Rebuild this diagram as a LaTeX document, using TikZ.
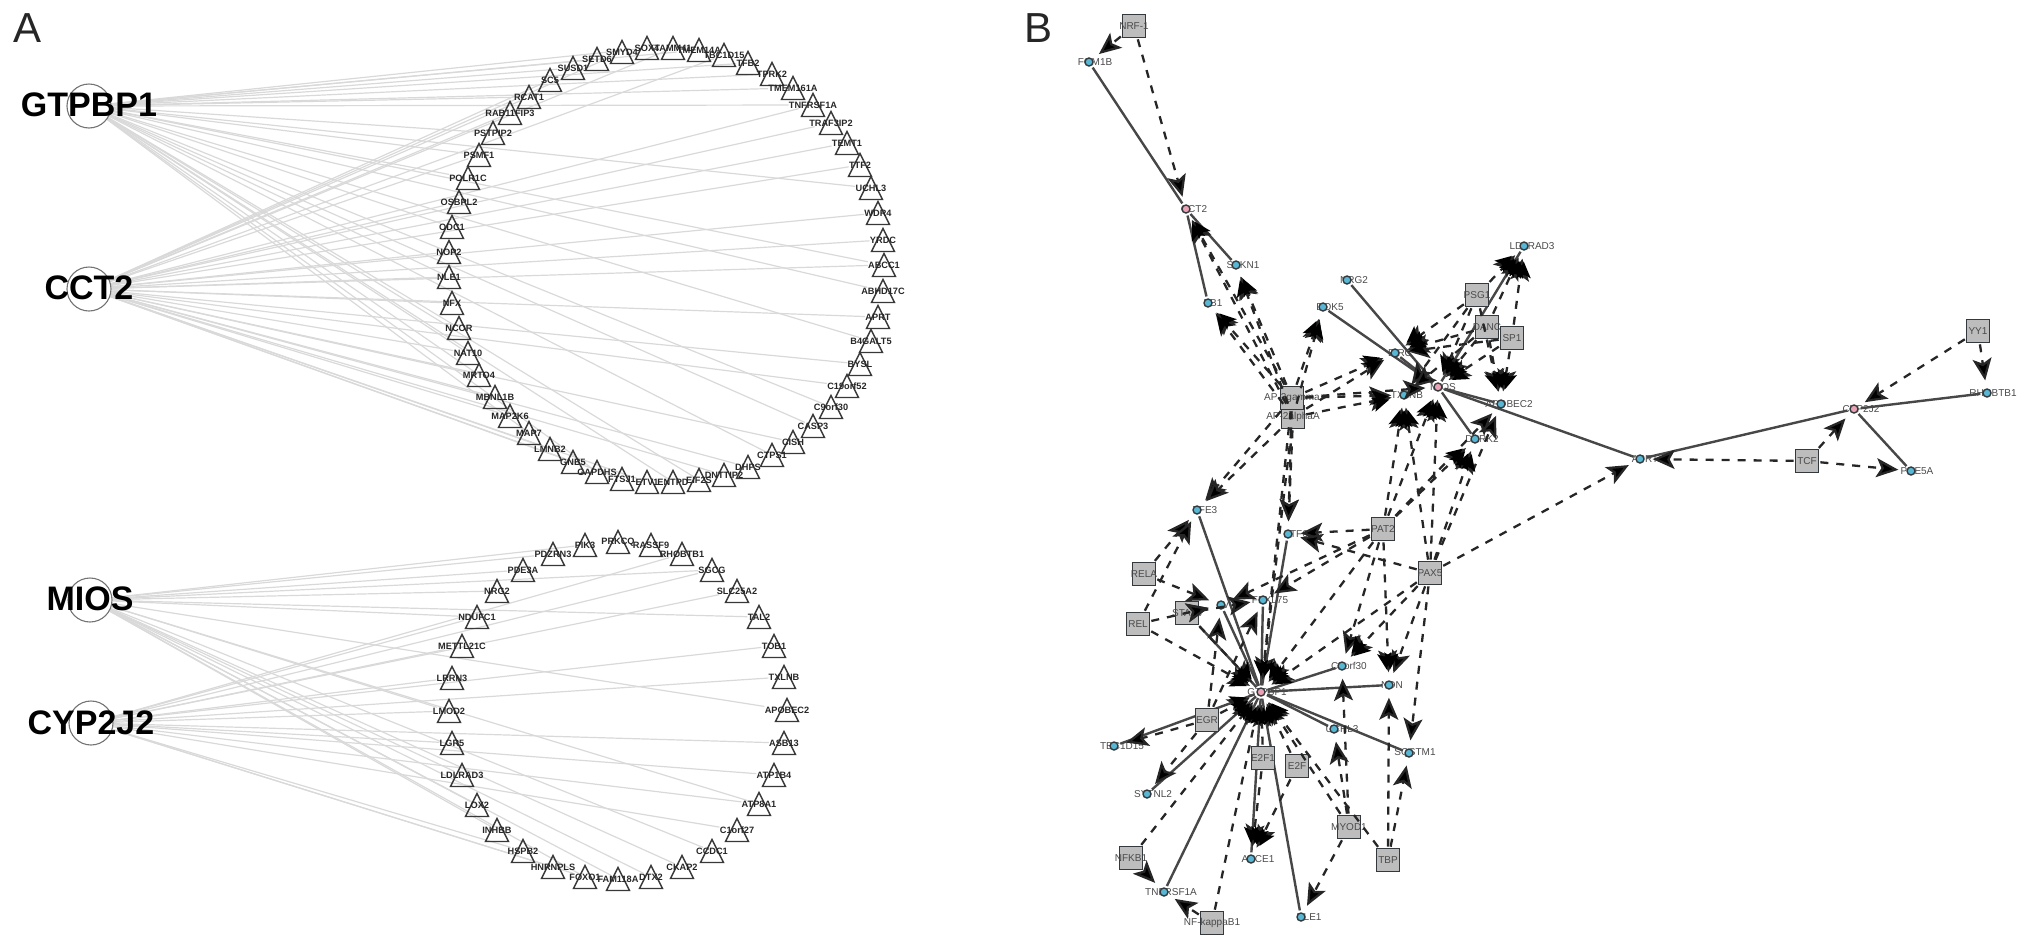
\documentclass[tikz,border=0pt]{standalone}
\usepackage{fontspec}
\setmainfont{Liberation Sans}
\usetikzlibrary{arrows.meta}
\pgfdeclarelayer{under}
\pgfdeclarelayer{over}
\pgfsetlayers{under,main,over}
\definecolor{sqfill}{HTML}{BDBDBD}
\definecolor{ringdk}{HTML}{33393D}
\definecolor{cyanf}{HTML}{58B7D3}
\definecolor{pinkf}{HTML}{E9A3B4}
\definecolor{lblc}{HTML}{4A4A4A}
\tikzset{
  tri/.pic={\draw[draw=black!78,line width=.7pt,line join=miter] (-11.5,11.5) -- (0,-11.5) -- (11.5,11.5) -- cycle;},
  tlab/.style={inner sep=0pt,text=black!85,font=\fontsize{4.6}{5}\selectfont\bfseries},
  hubc/.style={circle,draw=black!55,line width=.55pt,minimum size=22pt,inner sep=0pt},
  hublab/.style={inner sep=0pt,text=black,font=\fontsize{17}{20}\selectfont\bfseries},
  panel/.style={inner sep=0pt,text=black!85,font=\fontsize{21}{24}\selectfont},
  edgeA/.style={draw=black!15,line width=.6pt},
  sq/.style={rectangle,draw=ringdk,fill=sqfill,line width=.85pt,minimum size=11.5pt,inner sep=0pt},
  lbl/.style={inner sep=0pt,text=lblc,font=\fontsize{5}{6}\selectfont},
  tg/.style={circle,draw=ringdk,fill=cyanf,line width=.7pt,minimum size=4pt,inner sep=0pt},
  hb/.style={circle,draw=ringdk,fill=pinkf,line width=.7pt,minimum size=4pt,inner sep=0pt},
  solidE/.style={draw=black!72,line width=1.2pt,shorten <=1pt,shorten >=1pt},
  dashE/.style={draw=black!85,line width=1.15pt,dash pattern=on 4pt off 4pt,shorten <=.5pt,shorten >=4pt,
    -{Stealth[length=11pt,width=9.5pt,inset=2.5pt,fill=black]}},
  fanE/.style={dashE,draw opacity=0},
}
\newcommand{\Tg}[5]{\node[lbl] (#1l) at (#4,#3) {#5}; \node[tg] (#1) at (#2,#3) {};}
\newcommand{\Hb}[5]{\node[lbl] (#1l) at (#4,#3) {#5}; \node[hb] (#1) at (#2,#3) {};}
\newcommand{\Sq}[4]{\node[sq] (#1) at (#2,#3) {}; \node[lbl] (#1l) at (#2,#3) {#4};}
\begin{document}
\begin{tikzpicture}[x=.5pt,y=-.5pt]
\useasboundingbox (0,0) rectangle (2031,948);
\node[panel] (pA) at (28,28) {A};
\node[panel] (pB) at (1038,28) {B};
% ---------- panel A hubs
\node[hubc] (gt) at (89,106) {};
\node[hubc] (cc) at (89,289) {};
\node[hubc] (mi) at (90,600) {};
\node[hubc] (cy) at (91,723) {};
\node[hublab] (gtl) at (89,105) {GTPBP1};
\node[hublab] (ccl) at (89,288) {CCT2};
\node[hublab] (mil) at (90,599) {MIOS};
\node[hublab] (cyl) at (91,723) {CYP2J2};
% ---------- upper ring
\foreach \x/\y/\t [count=\i] in {
510/113/RAB11FIP3,529/97/RCAT1,550/80/SC5,573/68/SUSD1,597/59/SETD6,622/52/SMYD4,647/48/SOX4,673/48/TAMM41,
699/50/TMEM14A,724/55/TBC1D15,748/63/TFB2,772/74/TPRK2,793/88/TMEM161A,813/105/TNFRSF1A,831/123/TRAF3IP2,
847/143/TEMT1,860/165/TTF2,871/188/UCHL3,878/213/WDR4,883/240/YRDC,884/265/ABCC1,883/291/ABHD17C,878/317/APRT,
871/341/B4GALT5,860/364/BYSL,847/386/C19orf52,831/407/C9orf30,813/426/CASP3,793/442/CISH,772/455/CTPS1,
748/467/DHPS,724/475/DNTTIP2,699/480/EIF2S,673/482/ENTPD,647/482/ETV1,622/479/FTSJ1,597/472/GAPDHS,
573/462/GNB5,550/449/LMNB2,529/433/MAP7,510/416/MAP2K6,495/397/MBNL1B,479/375/MRTO4,468/353/NAT10,459/328/NCOR,
452/303/NFX,449/277/NLE1,449/252/NOP2,452/227/ODC1,459/202/OSBPL2,468/178/POLR1C,479/155/PSMF1,493/133/PSTPIP2}
{ \pic at (\x,\y) {tri}; \node[tlab] (a\i) at (\x,\y) {\t}; }
% ---------- lower ring
\foreach \x/\y/\t [count=\i] in {
618/542/PRKCQ,651/545/RASSF9,682/554/RHOBTB1,712/570/SGCG,737/591/SLC25A2,759/617/TAL2,774/646/TOB1,784/677/TXLNB,
787/710/APOBEC2,784/743/ASB13,774/775/ATP1B4,759/804/ATP8A1,737/830/C1orf27,712/851/CCDC1,682/867/CKAP2,651/877/DTX2,
618/879/FAM118A,585/877/FOXO1,553/867/HNRNPLS,523/851/HSPB2,497/830/INHBB,477/805/LOX2,462/775/LDLRAD3,452/743/LGR5,
449/711/LMOD2,452/678/LRRN3,462/646/METTL21C,477/617/NDUFC1,497/591/NRG2,523/570/PDE3A,553/554/PDZRN3,585/545/PIK3}
{ \pic at (\x,\y) {tri}; \node[tlab] (b\i) at (\x,\y) {\t}; }
% ---------- panel B nodes
\Sq{nrf}{1134}{26}{NRF-1}
\Tg{fom}{1089}{62}{1095}{FOM1B}
\Hb{cct}{1186}{209}{1194}{CCT2}
\Tg{sbk}{1236}{265}{1243}{SBKN1}
\Tg{pb}{1208}{303}{1213}{PB1}
\Tg{nrg}{1347}{280}{1354}{NRG2}
\Tg{dok}{1323}{307}{1330}{DOK5}
\Tg{bir}{1395}{353}{1400}{BIRC}
\Hb{mio}{1438}{387}{1443}{MIOS}
\Tg{txl}{1404}{395}{1407}{TXLNB}
\Tg{apo}{1501}{404}{1509}{APOBEC2}
\Tg{dar}{1475}{439}{1482}{DARK2}
\Tg{ldl}{1524}{246}{1532}{LDLRAD3}
\Sq{psg}{1477}{295}{PSG1}
\Sq{dan}{1487}{327}{DANC}
\Sq{sp}{1512}{338}{SP1}
\Sq{apa}{1293}{417}{AP-2alphaA}
\Sq{apg}{1292}{398}{AP-2gamma}
\Sq{rela}{1144}{574}{RELA}
\Sq{rel}{1138}{624}{REL}
\Sq{sta}{1187}{613}{STAT3}
\Sq{pat}{1383}{529}{PAT2}
\Sq{pax}{1430}{573}{PAX5}
\Sq{egr}{1207}{720}{EGR}
\Sq{efa}{1263}{758}{E2F1}
\Sq{efb}{1297}{766}{E2F}
\Sq{myo}{1349}{827}{MYOD1}
\Sq{tbp}{1388}{860}{TBP}
\Sq{nfk}{1131}{858}{NFKB1}
\Sq{nfb}{1212}{923}{NF-kappaB1}
\Sq{yy}{1978}{331}{YY1}
\Sq{tcf}{1807}{461}{TCF}
\Tg{apr}{1640}{459}{1645}{APRT}
\Tg{rho}{1987}{393}{1993}{RHOBTB1}
\Tg{pde}{1911}{471}{1917}{PDE5A}
\Hb{cyp}{1854}{409}{1861}{CYP2J2}
\Tg{tfe}{1197}{510}{1205}{TFE3}
\Tg{atf}{1288}{534}{1296}{ATF6}
\Tg{fbx}{1263}{600}{1270}{FBXL75}
\Tg{av}{1221}{605}{1223}{AV}
\Tg{cnine}{1342}{666}{1349}{C9orf30}
\Tg{ndn}{1389}{685}{1392}{NDN}
\Tg{tbc}{1114}{746}{1122}{TBC1D15}
\Tg{uch}{1334}{729}{1342}{UCHL3}
\Tg{sqs}{1409}{753}{1415}{SQSTM1}
\Tg{syt}{1147}{794}{1153}{SYTNL2}
\Tg{abc}{1251}{859}{1258}{ABCE1}
\Tg{tnf}{1164}{892}{1171}{TNFRSF1A}
\Tg{nle}{1301}{917}{1309}{NLE1}
\Hb{gtp}{1261}{692}{1267}{GTPBP1}
\begin{pgfonlayer}{under}
\foreach \i in {2,4,5,7,9,11,12,13,14,18,21,22,24,27,28,30,33,34,37,40,43,44,45,47,49,51,52,53}
  \draw[edgeA] (gt) -- (a\i);
\foreach \i in {1,2,3,6,8,10,14,15,16,17,19,20,21,23,25,26,29,31,32,35,36,38,39,41,42,43,44,46,47,48,50,52}
  \draw[edgeA] (cc) -- (a\i);
\foreach \i in {29,32,31,30,28,4,6,9,12,14,15,16,17,18,21,22,23,25}
  \draw[edgeA] (mi) -- (b\i);
\foreach \i in {3,4,5,7,8,10,11,12,13,18,19,20,24,25,26,27,28}
  \draw[edgeA] (cy) -- (b\i);
% ---------- panel B solid edges
\foreach \a/\b in {fom/cct,cct/sbk,cct/pb,nrg/mio,dok/mio,bir/mio,mio/dar,mio/apo,mio/apr,mio/ldl,
  apr/cyp,cyp/rho,cyp/pde,gtp/tfe,gtp/atf,gtp/av,gtp/fbx,gtp/cnine,gtp/ndn,gtp/uch,gtp/sqs,gtp/tbc,gtp/syt,
  gtp/tnf,gtp/abc,gtp/nle,gtp/sta}
  \draw[solidE] (\a) -- (\b);
\end{pgfonlayer}
% ---------- panel B dashed edges with arrows
\begin{pgfonlayer}{over}
\foreach \a/\b in {nrf/fom,nrf/cct,
  apg/cct,apa/cct,apg/sbk,apa/sbk,apg/pb,apa/pb,apg/dok,apa/dok,apg/bir,apa/bir,apg/mio,apa/txl,apg/txl,
  apg/tfe,apa/tfe,apa/atf,apg/atf,apg/gtp,apa/gtp,
  psg/bir,dan/bir,sp/bir,psg/mio,dan/mio,sp/mio,psg/txl,dan/txl,psg/ldl,dan/ldl,sp/ldl,dan/apo,sp/apo,psg/apo,
  pat/txl,pax/txl,pat/mio,pax/mio,pat/dar,pax/dar,pat/apo,pax/apo,pax/apr,pat/atf,pax/atf,pat/av,pat/fbx,
  pat/gtp,pax/gtp,pax/cnine,pat/cnine,pax/ndn,pat/ndn,pax/sqs,
  rela/tfe,rel/tfe,rela/av,rel/av,sta/av,sta/fbx,rel/gtp,sta/gtp,egr/av,egr/fbx,egr/gtp,egr/tbc,egr/syt,
  efa/gtp,efb/gtp,efa/abc,efb/abc,myo/gtp,myo/uch,myo/cnine,myo/nle,tbp/gtp,tbp/ndn,tbp/sqs,
  nfk/tnf,nfk/gtp,nfb/tnf,nfb/gtp,
  tcf/apr,tcf/cyp,tcf/pde,yy/cyp,yy/rho}
  \draw[dashE] (\a) -- (\b);
% repeated edges between the same pairs: only their heads fan out at the target
\foreach \a/\b in {egr/gtp,efa/gtp,efb/gtp,myo/gtp,tbp/gtp,nfk/gtp,nfb/gtp,rel/gtp,sta/gtp,pat/gtp,pax/gtp,apg/gtp,
  psg/ldl,dan/ldl,sp/ldl,psg/bir,dan/bir,psg/mio,dan/mio,sp/mio,pat/mio,pax/mio,dan/apo,sp/apo,pat/dar,pax/dar,
  pat/txl,pax/txl,apg/cct,apa/sbk,apg/pb,apg/dok,apg/bir,apa/txl,efa/abc,efb/abc,pax/cnine,pat/ndn}
{
  \draw[fanE] (\a) to[bend left=6] (\b);
  \draw[fanE] (\a) to[bend right=6] (\b);
}
\end{pgfonlayer}
\end{tikzpicture}
\end{document}
